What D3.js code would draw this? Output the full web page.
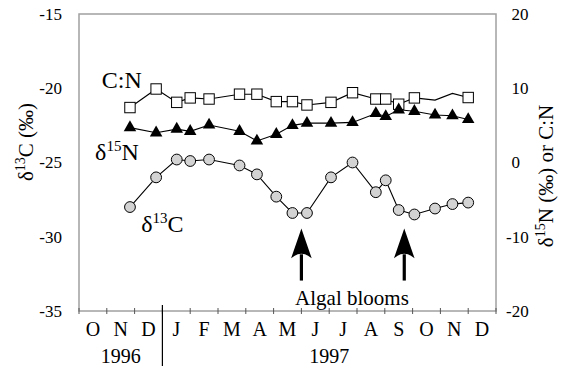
<!DOCTYPE html>
<html>
<head>
<meta charset="utf-8">
<script src="https://cdn.jsdelivr.net/npm/d3@7"></script>
<style>
  body { margin: 0; background: #fff; }
  svg, svg text { font-family: "Liberation Serif", "Times New Roman", serif; }
  .line { fill: none; stroke: #000; stroke-width: 1.1px; }
</style>
</head>
<body>
<svg id="chart" width="563" height="366"></svg>
<script>
var sampleDates = ["1996-11-26", "1996-12-25", "1997-01-17", "1997-02-01", "1997-02-20",
  "1997-03-25", "1997-04-13", "1997-05-04", "1997-05-22", "1997-06-07", "1997-07-03",
  "1997-07-27", "1997-08-22", "1997-09-02", "1997-09-16", "1997-10-03", "1997-10-26",
  "1997-11-14", "1997-12-01"];

// C:N ratio (right axis); two late samples have no marker
var cnValues = [7.4, 9.9, 8.1, 8.7, 8.55, 9.2, 9.2, 8.2, 8.2, 7.75, 8.1, 9.4, 8.55, 8.55,
  7.85, 8.7, 8.4, 9.3, 8.75];
var cnMarked = [1, 1, 1, 1, 1, 1, 1, 1, 1, 1, 1, 1, 1, 1, 1, 1, 0, 0, 1];

// delta 15N (right axis)
var n15Values = [4.7, 4.0, 4.5, 4.2, 5.05, 4.2, 2.9, 3.8, 5.0, 5.3, 5.3, 5.4, 6.6, 6.2,
  7.1, 6.9, 6.4, 6.3, 5.8];

// delta 13C (left axis)
var c13Values = [-28.0, -26.0, -24.8, -24.9, -24.8, -25.2, -25.8, -27.3, -28.4, -28.4,
  -26.0, -25.0, -27.0, -26.2, -28.2, -28.5, -28.1, -27.8, -27.7];

var monthLabels = ["O", "N", "D", "J", "F", "M", "A", "M", "J", "J", "A", "S", "O", "N", "D"];
var yearLabels = ["1996", "1997"];
var leftTicks = [-15, -20, -25, -30, -35];
var rightTicks = [20, 10, 0, -10, -20];
var bloomDates = ["1997-06-01", "1997-09-22"];

var FONT = "Liberation Serif";

function chart() {
  var svg = d3.select("#chart"),
    margin = { top: 14, right: 67, bottom: 55, left: 79 },
    width = +svg.attr("width") - margin.left - margin.right,
    height = +svg.attr("height") - margin.top - margin.bottom;

  var parseDate = d3.timeParse("%Y-%m-%d");

  // months counted from 1 Oct 1996, so that every month gets the same width
  function monthIndex(s) {
    var d = parseDate(s);
    var start = new Date(d.getFullYear(), d.getMonth(), 1),
      next = new Date(d.getFullYear(), d.getMonth() + 1, 1);
    return (d.getFullYear() - 1996) * 12 + d.getMonth() - 9 + (d - start) / (next - start);
  }

  var data = sampleDates.map((s, i) => ({
    m: monthIndex(s),
    cn: cnValues[i],
    cnMark: cnMarked[i],
    n15: n15Values[i],
    c13: c13Values[i]
  }));

  var x = d3.scaleLinear().domain([0, 15]).range([margin.left, margin.left + width]);
  var yL = d3.scaleLinear().domain([-35, -15]).range([margin.top + height, margin.top]);
  var yR = d3.scaleLinear().domain([-20, 20]).range([margin.top + height, margin.top]);

  // frame
  svg.append("rect")
    .attr("x", margin.left)
    .attr("y", margin.top)
    .attr("width", width)
    .attr("height", height)
    .style("fill", "none")
    .style("stroke", "#a0a0a0")
    .style("stroke-width", "1.5px");

  // bottom ticks (month boundaries)
  svg.append("g")
    .selectAll("line")
    .data(d3.range(16))
    .join("line")
    .attr("x1", (d) => x(d))
    .attr("x2", (d) => x(d))
    .attr("y1", margin.top + height - 3)
    .attr("y2", margin.top + height + 3)
    .style("stroke", "#555")
    .style("stroke-width", "1px");

  // month letters
  svg.append("g")
    .attr("font-family", FONT)
    .selectAll("text")
    .data(monthLabels)
    .join("text")
    .attr("x", (d, i) => x(i + 0.5))
    .attr("y", 336)
    .attr("text-anchor", "middle")
    .style("font-size", "20px")
    .text((d) => d);

  svg.append("text")
    .attr("x", x(1.5))
    .attr("y", 363)
    .attr("text-anchor", "middle")
    .style("font-size", "20px")
    .text(yearLabels[0]);

  svg.append("text")
    .attr("x", x(9))
    .attr("y", 363)
    .attr("text-anchor", "middle")
    .style("font-size", "20px")
    .text(yearLabels[1]);

  // year divider
  svg.append("line")
    .attr("x1", x(3))
    .attr("x2", x(3))
    .attr("y1", margin.top + height - 6)
    .attr("y2", 366)
    .style("stroke", "#000")
    .style("stroke-width", "1.2px");

  // left axis
  var left = svg.append("g")
    .attr("transform", "translate(" + margin.left + ",0)")
    .call(d3.axisLeft(yL).tickValues(leftTicks).tickSize(0).tickPadding(17).tickFormat((d) => String(d)));
  left.attr("font-family", FONT).attr("font-size", 17);
  left.select(".domain").remove();
  left.selectAll("text").style("fill", "#000");

  // right axis
  var right = svg.append("g")
    .attr("transform", "translate(" + (margin.left + width) + ",0)")
    .call(d3.axisRight(yR).tickValues(rightTicks).tickSize(0).tickPadding(15).tickFormat((d) => String(d)));
  right.attr("font-family", FONT).attr("font-size", 17);
  right.select(".domain").remove();
  right.selectAll("text")
    .style("fill", "#000")
    .attr("x", (d) => (d < 0 ? 10 : 15.5));

  // axis titles
  var leftTitle = svg.append("text")
    .attr("transform", "translate(33,142) rotate(-90)")
    .attr("text-anchor", "middle")
    .style("font-size", "21px");
  leftTitle.append("tspan").text("δ");
  leftTitle.append("tspan").attr("dy", -8).style("font-size", "14px").text("13");
  leftTitle.append("tspan").attr("dy", 8).text("C (‰)");

  var rightTitle = svg.append("text")
    .attr("transform", "translate(553,176) rotate(-90)")
    .attr("text-anchor", "middle")
    .style("font-size", "21px");
  rightTitle.append("tspan").text("δ");
  rightTitle.append("tspan").attr("dy", -8).style("font-size", "14px").text("15");
  rightTitle.append("tspan").attr("dy", 8).text("N (‰) or C:N");

  // lines
  svg.append("path")
    .datum(data)
    .attr("class", "line")
    .attr("d", d3.line().x((d) => x(d.m)).y((d) => yR(d.cn)));

  svg.append("path")
    .datum(data)
    .attr("class", "line")
    .attr("d", d3.line().x((d) => x(d.m)).y((d) => yR(d.n15)));

  svg.append("path")
    .datum(data)
    .attr("class", "line")
    .attr("d", d3.line().x((d) => x(d.m)).y((d) => yL(d.c13)));

  // markers
  svg.append("g")
    .selectAll("rect")
    .data(data.filter((d) => d.cnMark))
    .join("rect")
    .attr("x", (d) => x(d.m) - 5.2)
    .attr("y", (d) => yR(d.cn) - 5.2)
    .attr("width", 10.4)
    .attr("height", 10.4)
    .style("fill", "#fff")
    .style("stroke", "#000")
    .style("stroke-width", "1px");

  var tri = d3.symbol().type(d3.symbolTriangle).size(68);
  svg.append("g")
    .selectAll("path")
    .data(data)
    .join("path")
    .attr("transform", (d) => "translate(" + x(d.m) + "," + yR(d.n15) + ")")
    .attr("d", tri)
    .style("fill", "#000");

  svg.append("g")
    .selectAll("circle")
    .data(data)
    .join("circle")
    .attr("cx", (d) => x(d.m))
    .attr("cy", (d) => yL(d.c13))
    .attr("r", 5.4)
    .style("fill", "#d3d3d3")
    .style("stroke", "#000")
    .style("stroke-width", "1px");

  // series labels
  svg.append("text")
    .attr("x", x(0.82))
    .attr("y", yR(10.0))
    .style("font-size", "24px")
    .text("C:N");

  var nLab = svg.append("text")
    .attr("x", x(0.58))
    .attr("y", yL(-24.8))
    .style("font-size", "24px");
  nLab.append("tspan").text("δ");
  nLab.append("tspan").attr("dy", -9).style("font-size", "15px").text("15");
  nLab.append("tspan").attr("dy", 9).text("N");

  var cLab = svg.append("text")
    .attr("x", x(2.24))
    .attr("y", yL(-29.65))
    .style("font-size", "24px");
  cLab.append("tspan").text("δ");
  cLab.append("tspan").attr("dy", -9).style("font-size", "15px").text("13");
  cLab.append("tspan").attr("dy", 9).text("C");

  // algal bloom arrows
  var tipY = yL(-29.45), tailY = yL(-32.95), headY = yL(-31.45);
  bloomDates.forEach((s) => {
    var ax = x(monthIndex(s));
    svg.append("line")
      .attr("x1", ax)
      .attr("x2", ax)
      .attr("y1", headY - 4)
      .attr("y2", tailY)
      .style("stroke", "#000")
      .style("stroke-width", "3.2px");
    svg.append("path")
      .attr("d", "M" + ax + "," + tipY +
        "L" + (ax + 10.3) + "," + headY +
        "Q" + ax + "," + (headY - 9) + " " + (ax - 10.3) + "," + headY + "Z")
      .style("fill", "#000");
  });

  svg.append("text")
    .attr("x", x(9.82))
    .attr("y", yL(-34.6))
    .attr("text-anchor", "middle")
    .style("font-size", "21px")
    .text("Algal blooms");
}

chart();
</script>
</body>
</html>
